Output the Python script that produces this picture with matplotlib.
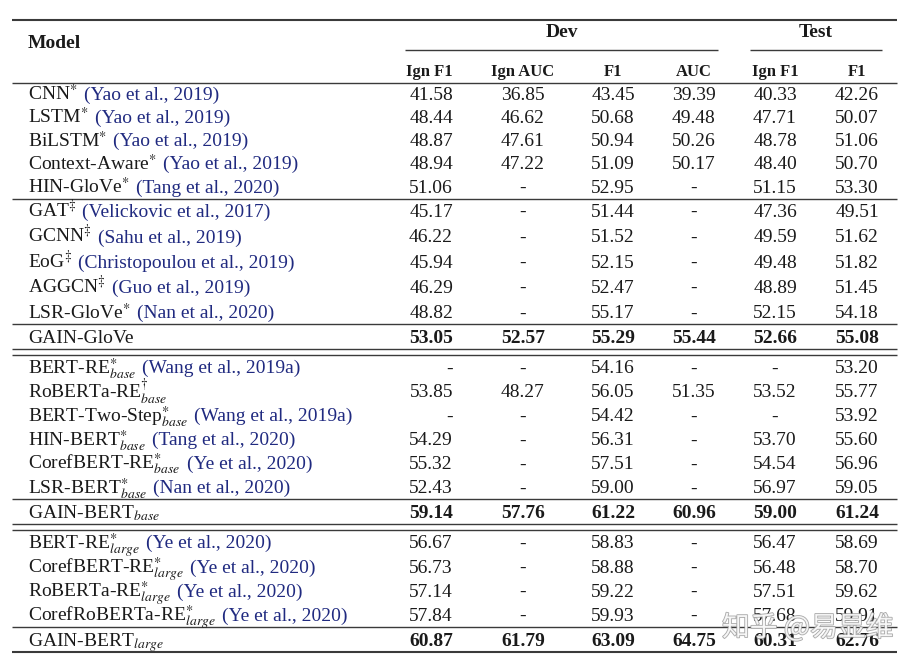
import matplotlib.pyplot as plt
import matplotlib.patheffects as pe

plt.rcParams['font.family'] = 'Liberation Serif'
plt.rcParams['mathtext.fontset'] = 'stix'

# table data
names = ["CNN", "LSTM", "BiLSTM", "Context-Aware", "HIN-GloVe",
         "GAT", "GCNN", "EoG", "AGGCN", "LSR-GloVe", "GAIN-GloVe",
         "BERT-RE", "RoBERTa-RE", "BERT-Two-Step", "HIN-BERT", "CorefBERT-RE", "LSR-BERT", "GAIN-BERT",
         "BERT-RE", "CorefBERT-RE", "RoBERTa-RE", "CorefRoBERTa-RE", "GAIN-BERT"]
marks = ["*"] * 5 + ["‡"] * 4 + ["*", ""] + ["*", "†", "*", "*", "*", "*", ""] + ["*"] * 4 + [""]
subs = [""] * 11 + ["base"] * 7 + ["large"] * 5
cites = (["Yao et al., 2019"] * 4 + ["Tang et al., 2020"]
         + ["Velickovic et al., 2017", "Sahu et al., 2019", "Christopoulou et al., 2019",
            "Guo et al., 2019", "Nan et al., 2020", ""]
         + ["Wang et al., 2019a", "", "Wang et al., 2019a", "Tang et al., 2020",
            "Ye et al., 2020", "Nan et al., 2020", ""]
         + ["Ye et al., 2020"] * 4 + [""])

dev_ign_f1 = [41.58, 48.44, 48.87, 48.94, 51.06, 45.17, 46.22, 45.94, 46.29, 48.82, 53.05,
              None, 53.85, None, 54.29, 55.32, 52.43, 59.14, 56.67, 56.73, 57.14, 57.84, 60.87]
dev_ign_auc = [36.85, 46.62, 47.61, 47.22, None, None, None, None, None, None, 52.57,
               None, 48.27, None, None, None, None, 57.76, None, None, None, None, 61.79]
dev_f1 = [43.45, 50.68, 50.94, 51.09, 52.95, 51.44, 51.52, 52.15, 52.47, 55.17, 55.29,
          54.16, 56.05, 54.42, 56.31, 57.51, 59.00, 61.22, 58.83, 58.88, 59.22, 59.93, 63.09]
dev_auc = [39.39, 49.48, 50.26, 50.17, None, None, None, None, None, None, 55.44,
           None, 51.35, None, None, None, None, 60.96, None, None, None, None, 64.75]
test_ign_f1 = [40.33, 47.71, 48.78, 48.40, 51.15, 47.36, 49.59, 49.48, 48.89, 52.15, 52.66,
               None, 53.52, None, 53.70, 54.54, 56.97, 59.00, 56.47, 56.48, 57.51, 57.68, 60.31]
test_f1 = [42.26, 50.07, 51.06, 50.70, 53.30, 49.51, 51.62, 51.82, 51.45, 54.18, 55.08,
           53.20, 55.77, 53.92, 55.60, 56.96, 59.05, 61.24, 58.69, 58.70, 59.62, 59.91, 62.76]

col_labels = ["Ign F1", "Ign AUC", "F1", "AUC", "Ign F1", "F1"]
columns = [dev_ign_f1, dev_ign_auc, dev_f1, dev_auc, test_ign_f1, test_f1]

# layout (pixel coordinates)
fig = plt.figure(figsize=(9.1, 6.64), dpi=100)
ax = fig.add_axes([0, 0, 1, 1])
ax.set_xlim(0, 910)
ax.set_ylim(664, 0)
ax.axis('off')

x_left, x_right = 12, 897
col_x = [453, 523, 613, 694, 775, 857]
col_ha = ['right'] + ['center'] * 5
group_of = [0] * 5 + [1] * 6 + [2] * 7 + [3] * 5
pitch = [23.3, 25.3, 24.0, 24.3]
rules = {4: 'single', 9: 'single', 10: 'double', 16: 'single', 17: 'double', 21: 'single', 22: 'bottom'}
ink = '#1a1a1a'
cite_color = '#202a80'
rule_color = '#3a3a3a'
fs = 14

# header
ax.hlines(20, x_left, x_right, color=rule_color, lw=1.5)
ax.text(28, 48, "Model", fontsize=fs, fontweight='bold', color=ink, va='baseline')
ax.text(562, 37, "Dev", fontsize=fs, fontweight='bold', color=ink, ha='center', va='baseline')
ax.text(816, 37, "Test", fontsize=fs, fontweight='bold', color=ink, ha='center', va='baseline')
ax.hlines(50, 405, 718, color=rule_color, lw=1.0)
ax.hlines(50, 750, 882, color=rule_color, lw=1.0)
for lab, x, ha in zip(col_labels, col_x, col_ha):
    ax.text(x, 76, lab, fontsize=12, fontweight='bold', color=ink, ha=ha, va='baseline')
ax.hlines(83, x_left, x_right, color=rule_color, lw=1.0)

# rows
tex_mark = {'*': r'\ast', '‡': r'\ddag', '†': r'\dag', '': ''}
renderer = fig.canvas.get_renderer()
inv = ax.transData.inverted()
y = 93
for i, name in enumerate(names):
    base = y + 6.5
    label = name
    if marks[i] or subs[i]:
        sup = "^{%s}" % tex_mark[marks[i]] if marks[i] else ""
        sub = "_{%s}" % subs[i] if subs[i] else ""
        label = name + "$" + sup + sub + "$"
    t = ax.text(28, base, label, fontsize=fs, color=ink, va='baseline')
    if cites[i]:
        bb = t.get_window_extent(renderer)
        x_end = inv.transform((bb.x1, bb.y0))[0]
        ax.text(x_end + 6, base, "(" + cites[i] + ")", fontsize=fs, color=cite_color, va='baseline')
    bold = name.startswith("GAIN")
    for col, x, ha in zip(columns, col_x, col_ha):
        v = col[i]
        s = "-" if v is None else f"{v:.2f}"
        ax.text(x, base, s, fontsize=fs, color=ink, ha=ha, va='baseline',
                fontweight='bold' if bold else 'normal')
    if i in rules:
        ry = y + 12.5
        if rules[i] == 'bottom':
            ax.hlines(ry, x_left, x_right, color=rule_color, lw=1.5)
        else:
            ax.hlines(ry, x_left, x_right, color=rule_color, lw=1.0)
            if rules[i] == 'double':
                ry += 6
                ax.hlines(ry, x_left, x_right, color=rule_color, lw=1.0)
        y = ry + 12
    elif i + 1 < len(names):
        y += pitch[group_of[i + 1]]

# watermark
ax.text(722, 628, "知乎 @易显维", fontsize=20, family=['Noto Sans CJK SC', 'DejaVu Sans'],
        color='white', alpha=0.85, va='center',
        path_effects=[pe.withStroke(linewidth=1.2, foreground='#9a9a9a')])

fig.savefig("out.png", dpi=100)
